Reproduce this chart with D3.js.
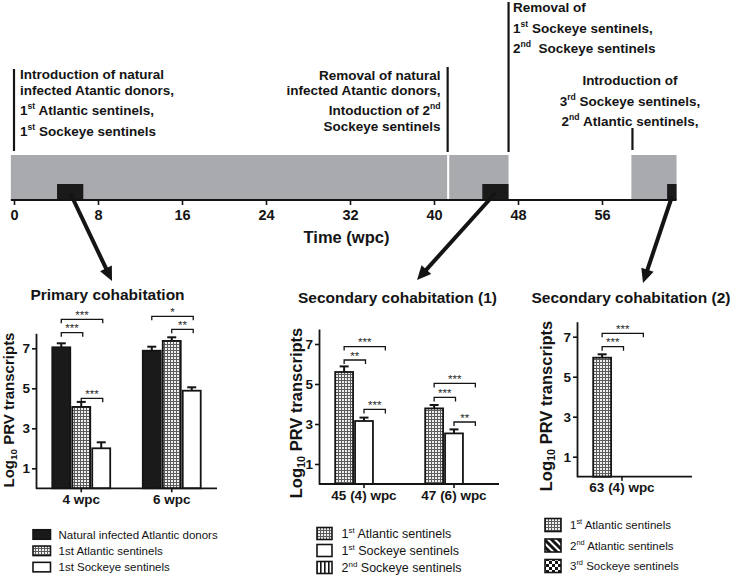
<!DOCTYPE html>
<html><head><meta charset="utf-8">
<script src="https://cdn.jsdelivr.net/npm/d3@7"></script>
<style>
body{margin:0;background:#fff}
svg{display:block;font-family:"Liberation Sans",Arial,Helvetica,sans-serif}
</style>
</head><body>
<svg id="c" width="733" height="575"></svg>
<script>
// ---------- Timeline data (weeks post challenge) ----------
const timeTicks = [0, 8, 16, 24, 32, 40, 48, 56];
const timeDomain = [-0.3, 63.1];
const tankPeriods = [[-0.3, 41.25], [41.45, 47.1], [58.8, 63.1]];
const samplingWindows = [[4.1, 6.6], [44.6, 47.1], [62.2, 63.1]];
const eventWeeks = [0, 41.3, 47.1, 58.9];
const eventTexts = [
  ["Introduction of natural", "infected Atantic donors,", "1^st^ Atlantic sentinels,", "1^st^ Sockeye sentinels"],
  ["Removal of natural", "infected Atantic donors,", "Intoduction of 2^nd^", "Sockeye sentinels"],
  ["Removal of", "1^st^ Sockeye sentinels,", "2^nd^  Sockeye sentinels"],
  ["Introduction of", "3^rd^ Sockeye sentinels,", "2^nd^ Atlantic sentinels,"]
];

// ---------- Panel 1: Primary cohabitation ----------
const p1Categories = ["4 wpc", "6 wpc"];
const p1Series = ["Natural infected Atlantic donors", "1st Atlantic sentinels", "1st Sockeye sentinels"];
const p1Means = [[7.05, 4.07, 2.0], [6.88, 7.37, 4.88]];
const p1Sem = [[0.2, 0.25, 0.3], [0.2, 0.18, 0.17]];
const p1Sig = [[0, 0, 2, "***", 8.45], [0, 0, 1, "***", 7.78], [0, 1, 2, "***", 4.5], [1, 0, 2, "*", 8.6], [1, 1, 2, "**", 7.95]];

// ---------- Panel 2: Secondary cohabitation (1) ----------
const p2Categories = ["45 (4) wpc", "47 (6) wpc"];
const p2Series = ["1^st^ Atlantic sentinels", "1^st^ Sockeye sentinels", "2^nd^ Sockeye sentinels"];
const p2Means = [[5.6, 3.15, 0], [3.78, 2.53, 0]];
const p2Sem = [[0.28, 0.17, 0], [0.17, 0.2, 0]];
const p2Sig = [[0, 0, 2, "***", 6.87], [0, 0, 1, "**", 6.2], [0, 1, 2, "***", 3.73], [1, 0, 2, "***", 5.03], [1, 0, 1, "***", 4.33], [1, 1, 2, "**", 3.1]];

// ---------- Panel 3: Secondary cohabitation (2) ----------
const p3Categories = ["63 (4) wpc"];
const p3Series = ["1^st^ Atlantic sentinels", "2^nd^ Atlantic sentinels", "3^rd^ Sockeye sentinels"];
const p3Means = [[5.95, 0, 0]];
const p3Sem = [[0.17, 0, 0]];
const p3Sig = [[0, 0, 2, "***", 7.17], [0, 0, 1, "***", 6.5]];

const yTicks = [1, 3, 5, 7];

const svg = d3.select("#c");
const INK = "#141414";

// ---------- patterns ----------
const defs = svg.append("defs");
{
  const p = defs.append("pattern").attr("id", "dots").attr("patternUnits", "userSpaceOnUse").attr("width", 3).attr("height", 3);
  p.append("rect").attr("width", 3).attr("height", 3).attr("fill", "#5c5c5c");
  p.append("rect").attr("width", 2).attr("height", 2).attr("fill", "#efefef");
  const v = defs.append("pattern").attr("id", "vstripes").attr("patternUnits", "userSpaceOnUse").attr("width", 4).attr("height", 4);
  v.append("rect").attr("width", 4).attr("height", 4).attr("fill", "#fff");
  v.append("rect").attr("width", 1.6).attr("height", 4).attr("fill", INK);
  const d = defs.append("pattern").attr("id", "diag").attr("patternUnits", "userSpaceOnUse").attr("width", 5).attr("height", 5).attr("patternTransform", "rotate(-45)");
  d.append("rect").attr("width", 5).attr("height", 5).attr("fill", INK);
  d.append("rect").attr("width", 2).attr("height", 5).attr("fill", "#fff");
  const c = defs.append("pattern").attr("id", "checker").attr("patternUnits", "userSpaceOnUse").attr("width", 6).attr("height", 6);
  c.append("rect").attr("width", 6).attr("height", 6).attr("fill", "#fff");
  c.append("rect").attr("width", 3).attr("height", 3).attr("fill", INK);
  c.append("rect").attr("x", 3).attr("y", 3).attr("width", 3).attr("height", 3).attr("fill", INK);
}

// rich text helper: ^...^ marks superscript
function rich(textSel, str, size) {
  const parts = str.split("^");
  let raised = false;
  parts.forEach((t, i) => {
    if (t === "") { return; }
    const sup = i % 2 === 1;
    const ts = textSel.append("tspan").text(t);
    if (sup) {
      ts.attr("font-size", size * 0.64).attr("dy", -size * 0.42);
      raised = true;
    } else {
      if (raised) { ts.attr("dy", size * 0.42); raised = false; }
    }
  });
}

// ---------- Timeline ----------
const tx = d3.scaleLinear().domain([0, 56]).range([14, 602]);
const bandTop = 155, bandBottom = 200, winTop = 184;

svg.append("g").selectAll("rect").data(tankPeriods).join("rect")
  .attr("x", d => tx(d[0])).attr("width", d => tx(d[1]) - tx(d[0]))
  .attr("y", bandTop).attr("height", bandBottom - bandTop)
  .attr("fill", "#a9aaae");

svg.append("g").selectAll("rect").data(samplingWindows).join("rect")
  .attr("x", d => tx(d[0])).attr("width", d => tx(d[1]) - tx(d[0]))
  .attr("y", winTop).attr("height", bandBottom - winTop)
  .attr("fill", "#1a1a1a");

const tAxis = svg.append("g").attr("transform", `translate(0,${bandBottom})`)
  .call(d3.axisBottom(tx).tickValues(timeTicks).tickSize(5).tickPadding(5).tickFormat(d3.format("d")));
tAxis.select(".domain").remove();
tAxis.selectAll(".tick line").attr("stroke", INK).attr("stroke-width", 1.6);
tAxis.selectAll(".tick text").attr("font-size", 14.5).attr("font-weight", "bold").attr("fill", INK).attr("font-family", "Liberation Sans, Arial, sans-serif");
svg.append("line").attr("x1", tx(timeDomain[0])).attr("x2", tx(timeDomain[1]))
  .attr("y1", bandBottom).attr("y2", bandBottom).attr("stroke", INK).attr("stroke-width", 1.8);

svg.append("text").attr("x", 346.5).attr("y", 243).attr("text-anchor", "middle")
  .attr("font-size", 16.5).attr("font-weight", "bold").attr("fill", INK).text("Time (wpc)");

// event lines
const eventLineY = [[69, 151], [67, 152], [2, 152], [128, 150]];
svg.append("g").selectAll("line").data(eventWeeks).join("line")
  .attr("x1", d => tx(d)).attr("x2", d => tx(d))
  .attr("y1", (d, i) => eventLineY[i][0]).attr("y2", (d, i) => eventLineY[i][1])
  .attr("stroke", INK).attr("stroke-width", 2.2);

// event texts
const eventLayout = [
  { x: 20, anchor: "start", ys: [79, 95, 115, 136] },
  { x: 440.5, anchor: "end", ys: [80, 95, 115, 131] },
  { x: 513, anchor: "start", ys: [11.5, 32.5, 52.5] },
  { x: 630, anchor: "middle", ys: [85, 106, 126] }
];
eventTexts.forEach((lines, k) => {
  const L = eventLayout[k];
  lines.forEach((ln, j) => {
    const t = svg.append("text").attr("x", L.x).attr("y", L.ys[j]).attr("text-anchor", L.anchor)
      .attr("font-size", 13.5).attr("font-weight", "bold").attr("fill", INK)
      .attr("xml:space", "preserve").style("white-space", "pre");
    rich(t, ln, 13.5);
  });
});

// arrows
function arrow(x1, y1, x2, y2) {
  const dx = x2 - x1, dy = y2 - y1, len = Math.hypot(dx, dy);
  const ux = dx / len, uy = dy / len, px = -uy, py = ux;
  const hl = 14, hw = 6.5;
  svg.append("line").attr("x1", x1).attr("y1", y1)
    .attr("x2", x2 - ux * (hl - 2)).attr("y2", y2 - uy * (hl - 2))
    .attr("stroke", INK).attr("stroke-width", 4);
  svg.append("polygon").attr("points", [
    [x2, y2],
    [x2 - ux * hl + px * hw, y2 - uy * hl + py * hw],
    [x2 - ux * hl - px * hw, y2 - uy * hl - py * hw]
  ].map(p => p.join(",")).join(" ")).attr("fill", INK);
}
const arrowTips = [[112, 281], [417, 280], [643, 283]];
const arrowStartY = [193, 193, 197];
samplingWindows.forEach((w, i) => {
  arrow(tx((w[0] + w[1]) / 2), arrowStartY[i], arrowTips[i][0], arrowTips[i][1]);
});

// ---------- Bar panels ----------
function drawPanel(c) {
  const g = svg.append("g");
  const x0 = d3.scaleBand().domain(c.cats).range(c.xRange).paddingInner(0.36).paddingOuter(0.18);
  const x1 = d3.scaleBand().domain(c.series).range([0, x0.bandwidth()]).paddingInner(0.1).paddingOuter(0);
  const y = d3.scaleLinear().domain([0, 7.75]).range([c.y0, c.y0 - 7.75 * 20]);

  // title
  g.append("text").attr("x", c.titleX).attr("y", c.titleY).attr("text-anchor", "middle")
    .attr("font-size", 15.5).attr("font-weight", "bold").attr("fill", INK).text(c.title);

  // y label
  const yl = g.append("text").attr("transform", `translate(${c.yLabX},${c.yLabY}) rotate(-90)`)
    .attr("text-anchor", "middle").attr("font-size", c.yLabSize).attr("font-weight", "bold").attr("fill", INK);
  yl.append("tspan").text("Log");
  yl.append("tspan").text("10").attr("font-size", c.yLabSize * 0.66).attr("dy", c.yLabSize * 0.2);
  yl.append("tspan").text(" PRV transcripts").attr("dy", -c.yLabSize * 0.2);

  // bars
  const flat = c.cats.flatMap((cat, i) => c.series.map((s, j) => ({ cat, s, j, v: c.means[i][j], e: c.sems[i][j] })))
    .filter(d => d.v > 0);
  const bx = d => x0(d.cat) + x1(d.s);
  g.append("g").selectAll("line").data(flat).join("line")
    .attr("x1", d => bx(d) + x1.bandwidth() / 2).attr("x2", d => bx(d) + x1.bandwidth() / 2)
    .attr("y1", d => y(d.v)).attr("y2", d => y(d.v + d.e))
    .attr("stroke", INK).attr("stroke-width", 2);
  g.append("g").selectAll("line").data(flat).join("line")
    .attr("x1", d => bx(d) + x1.bandwidth() / 2 - 4.5).attr("x2", d => bx(d) + x1.bandwidth() / 2 + 4.5)
    .attr("y1", d => y(d.v + d.e)).attr("y2", d => y(d.v + d.e))
    .attr("stroke", INK).attr("stroke-width", 2);
  g.append("g").selectAll("rect").data(flat).join("rect")
    .attr("x", bx).attr("width", x1.bandwidth())
    .attr("y", d => y(d.v)).attr("height", d => y(0) - y(d.v))
    .attr("fill", d => c.fills[d.j]).attr("stroke", INK).attr("stroke-width", 1.8);

  // axes
  const ya = g.append("g").attr("transform", `translate(${c.xRange[0]},0)`)
    .call(d3.axisLeft(y).tickValues(yTicks).tickSize(4).tickPadding(2).tickSizeOuter(0).tickFormat(d3.format("d")));
  ya.select(".domain").attr("stroke", INK).attr("stroke-width", 1.8);
  ya.selectAll(".tick line").attr("stroke", INK).attr("stroke-width", 1.6);
  ya.selectAll(".tick text").attr("font-size", 13.5).attr("font-weight", "bold").attr("fill", INK).attr("font-family", "Liberation Sans, Arial, sans-serif");

  const xa = g.append("g").attr("transform", `translate(0,${c.y0})`)
    .call(d3.axisBottom(x0).tickSize(4).tickPadding(2).tickSizeOuter(0));
  xa.select(".domain").remove();
  xa.selectAll(".tick line").attr("stroke", INK).attr("stroke-width", 1.6);
  xa.selectAll(".tick text").attr("font-size", 13.5).attr("font-weight", "bold").attr("fill", INK).attr("font-family", "Liberation Sans, Arial, sans-serif");
  g.append("line").attr("x1", c.xRange[0]).attr("x2", c.axisEnd).attr("y1", c.y0).attr("y2", c.y0)
    .attr("stroke", INK).attr("stroke-width", 1.8);

  // significance brackets
  const cx = (i, j) => x0(c.cats[i]) + x1(c.series[j]) + x1.bandwidth() / 2;
  c.sig.forEach(([i, a, b, lab, lev]) => {
    const xa1 = cx(i, a), xb1 = cx(i, b) + 1.5, yy = y(lev);
    g.append("path").attr("d", `M${xa1},${yy + 4}V${yy}H${xb1}V${yy + 4}`)
      .attr("fill", "none").attr("stroke", INK).attr("stroke-width", 1.3);
    g.append("text").attr("x", (xa1 + xb1) / 2).attr("y", yy - 0.3).attr("text-anchor", "middle")
      .attr("font-size", 11.5).attr("fill", "#2a2a2a").text(lab);
  });

  // legend
  c.series.forEach((s, j) => {
    const cy = c.legY + j * c.legStep;
    g.append("rect").attr("x", c.legX).attr("y", cy - c.swH / 2).attr("width", c.swW).attr("height", c.swH)
      .attr("fill", c.fills[j]).attr("stroke", INK).attr("stroke-width", 1.6);
    const t = g.append("text").attr("x", c.legTextX).attr("y", cy + c.legFont * 0.36)
      .attr("font-size", c.legFont).attr("fill", INK);
    rich(t, s, c.legFont);
  });
}

drawPanel({
  cats: p1Categories, series: p1Series, means: p1Means, sems: p1Sem, sig: p1Sig,
  fills: ["#1a1a1a", "url(#dots)", "#fff"],
  title: "Primary cohabitation", titleX: 107.5, titleY: 300,
  xRange: [36, 217], axisEnd: 217, y0: 488.3,
  yLabX: 14, yLabY: 410, yLabSize: 15,
  legX: 33, legTextX: 58.5, legY: 534.5, legStep: 16.3, swW: 17.5, swH: 9.5, legFont: 11.5
});
drawPanel({
  cats: p2Categories, series: p2Series, means: p2Means, sems: p2Sem, sig: p2Sig,
  fills: ["url(#dots)", "#fff", "url(#vstripes)"],
  title: "Secondary cohabitation (1)", titleX: 397.5, titleY: 303,
  xRange: [319, 499], axisEnd: 499, y0: 484,
  yLabX: 302, yLabY: 413, yLabSize: 16.5,
  legX: 317, legTextX: 341.5, legY: 533.5, legStep: 17, swW: 15, swH: 12, legFont: 12.5
});
drawPanel({
  cats: p3Categories, series: p3Series, means: p3Means, sems: p3Sem, sig: p3Sig,
  fills: ["url(#dots)", "url(#diag)", "url(#checker)"],
  title: "Secondary cohabitation (2)", titleX: 631, titleY: 303.3,
  xRange: [577, 667], axisEnd: 692, y0: 476.7,
  yLabX: 552, yLabY: 406, yLabSize: 16.5,
  legX: 545, legTextX: 570, legY: 525, legStep: 20.5, swW: 16, swH: 13, legFont: 11.5
});
</script>
</body></html>
